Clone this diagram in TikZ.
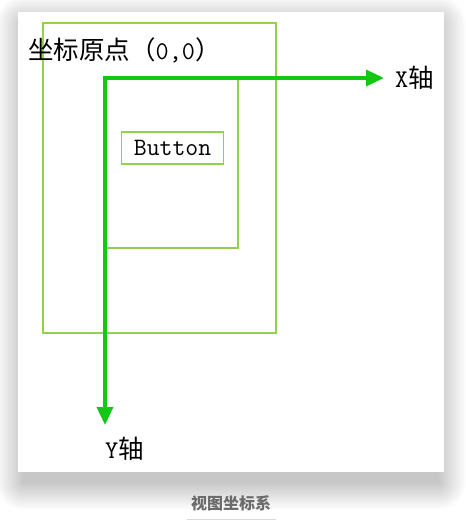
\documentclass[tikz,border=0pt]{standalone}
\usepackage{fontspec}
\newfontfamily\cjk{Noto Sans CJK SC}
\usetikzlibrary{arrows.meta,positioning}
\definecolor{boxgreen}{RGB}{146,208,80}
\definecolor{axisgreen}{RGB}{18,200,18}

\begin{document}
\begin{tikzpicture}[x=1pt, y=-1pt, >={Triangle[length=18pt,width=16pt]},
  frame/.style={draw=boxgreen, line width=1.4pt},
  axisline/.style={draw=axisgreen, line width=3.5pt},
  txt/.style={font=\fontsize{25.5}{30}\selectfont, inner sep=0pt}]
  \useasboundingbox (0,0) rectangle (466,525);
  % soft shadow under the card
  \foreach \i in {1,...,28}
    \fill[black, opacity=0.009, rounded corners=\i pt] (24-\i,24-\i) rectangle (438+\i,482+\i);
  \fill[white] (18,12) rectangle (444,472);
  % view frames
  \draw[frame] (43,23) rectangle (276,333);
  \draw[frame] (105,78) rectangle (238,248);
  \node[frame, txt, font=\ttfamily\fontsize{25}{28}\selectfont, minimum width=102pt, minimum height=32pt] (button) at (172.5,148) {Button};
  % axes
  \coordinate (origin) at (105,78);
  \coordinate (xend) at (384,78);
  \coordinate (yend) at (105,425);
  \draw[axisline, <->] (xend) -- (origin) -- (yend);
  \node[txt, anchor=west] (origintext) at (28,50) {\cjk 坐标原点（{\ttfamily 0,0}）};
  \node[txt, right=11pt of xend] (xtext) {{\ttfamily X}\cjk 轴};
  \node[txt, below=12pt of yend, anchor=north west] (ytext) {{\ttfamily Y}\cjk 轴};
  % caption
  \node[font=\cjk\bfseries\fontsize{16}{18}\selectfont, text=black!58] (caption) at (231,503) {视图坐标系};
  \draw[black!15, line width=1pt] (187,519) -- (276,519);
\end{tikzpicture}
\end{document}
